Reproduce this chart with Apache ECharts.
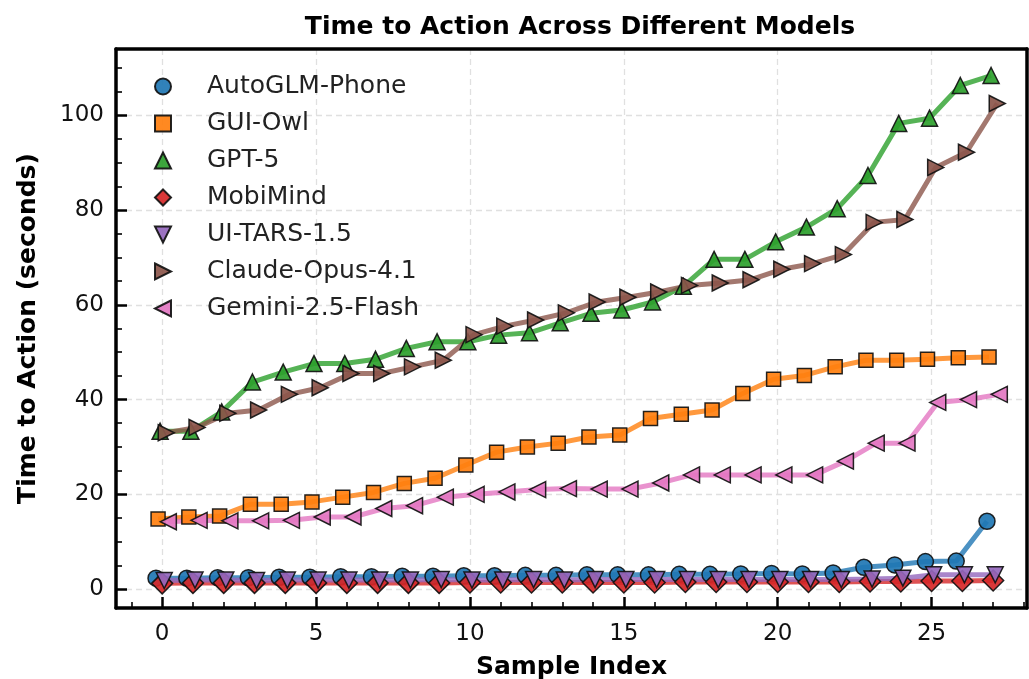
<!DOCTYPE html>
<html>
<head>
<meta charset="utf-8">
<script src="https://cdn.jsdelivr.net/npm/echarts@6/dist/echarts.min.js"></script>
<style>
html, body { margin: 0; padding: 0; background: #fff; }
#chart { width: 1029px; height: 679px; }
</style>
</head>
<body>
<div id="chart"></div>
<script>
var sampleIndex = [0, 1, 2, 3, 4, 5, 6, 7, 8, 9, 10, 11, 12, 13, 14, 15, 16, 17, 18, 19, 20, 21, 22, 23, 24, 25, 26, 27];

var modelNames = ['AutoGLM-Phone', 'GUI-Owl', 'GPT-5', 'MobiMind', 'UI-TARS-1.5', 'Claude-Opus-4.1', 'Gemini-2.5-Flash'];
var colors = ['#1f77b4', '#ff7f0e', '#2ca02c', '#d62728', '#9467bd', '#8c564b', '#e377c2'];
// small horizontal shift of each model's points
var dodge = [-0.2, -0.133, -0.067, 0, 0.067, 0.133, 0.2];

var autoglm = [2.3, 2.3, 2.4, 2.4, 2.5, 2.5, 2.6, 2.6, 2.7, 2.7, 2.8, 2.8, 2.9, 2.9, 3.0, 3.0, 3.0, 3.1, 3.1, 3.2, 3.3, 3.2, 3.4, 4.6, 5.1, 5.8, 5.9, 14.3];
var guiOwl = [14.8, 15.2, 15.4, 17.9, 17.9, 18.4, 19.4, 20.4, 22.3, 23.4, 26.2, 28.9, 30.0, 30.8, 32.1, 32.5, 36.0, 36.9, 37.8, 41.3, 44.3, 45.1, 46.9, 48.3, 48.3, 48.5, 48.8, 49.0];
var gpt5 = [33.3, 33.3, 37.4, 43.7, 45.8, 47.6, 47.6, 48.5, 50.8, 52.2, 52.2, 53.6, 54.1, 56.2, 58.2, 58.9, 60.6, 63.9, 69.6, 69.6, 73.3, 76.4, 80.3, 87.3, 98.3, 99.4, 106.3, 108.4];
var mobiMind = [1.2, 1.3, 1.3, 1.3, 1.3, 1.3, 1.3, 1.3, 1.3, 1.3, 1.4, 1.4, 1.4, 1.4, 1.4, 1.4, 1.4, 1.5, 1.5, 1.5, 1.5, 1.5, 1.5, 1.6, 1.6, 1.7, 1.7, 1.8];
var uiTars = [1.8, 1.9, 1.9, 1.8, 1.9, 1.9, 1.9, 1.9, 1.9, 2.0, 1.9, 1.9, 2.0, 1.9, 2.0, 2.0, 2.0, 2.0, 2.0, 2.0, 2.0, 2.0, 2.0, 2.1, 2.3, 3.0, 3.0, 3.0];
var claude = [33.0, 34.1, 37.1, 37.8, 41.1, 42.5, 45.5, 45.5, 46.9, 48.3, 53.7, 55.5, 56.8, 58.3, 60.6, 61.6, 62.7, 64.1, 64.6, 65.3, 67.5, 68.7, 70.6, 77.4, 78.0, 89.0, 92.2, 102.5];
var gemini = [14.2, 14.5, 14.4, 14.4, 14.5, 15.2, 15.2, 17.0, 17.6, 19.4, 20.0, 20.5, 21.0, 21.2, 21.1, 21.1, 22.4, 24.1, 24.1, 24.1, 24.1, 24.1, 27.0, 30.8, 30.8, 39.4, 40.0, 41.1];

var xMajor = [0, 5, 10, 15, 20, 25];
var xMinor = [-1, 1, 2, 3, 4, 6, 7, 8, 9, 11, 12, 13, 14, 16, 17, 18, 19, 21, 22, 23, 24, 26, 27, 28];
var yMajor = [0, 20, 40, 60, 80, 100];
var yMinor = [5, 10, 15, 25, 30, 35, 45, 50, 55, 65, 70, 75, 85, 90, 95, 105, 110];

var allValues = [autoglm, guiOwl, gpt5, mobiMind, uiTars, claude, gemini];

var markers = [
    'circle',
    'path://M0,0L10,0L10,10L0,10Z',
    'path://M5,0L10,10L0,10Z',
    'path://M5,0L10,5L5,10L0,5Z',
    'path://M0,0L10,0L5,10Z',
    'path://M0,0L10,5L0,10Z',
    'path://M10,0L0,5L10,10Z'
];
var markerSizes = [16, 14, 16, 21, 16, 16, 16];

var font = 'DejaVu Sans';
var xMin = -1.5, xMax = 28.1, yMin = -4, yMax = 114;

function eachOf(arr, fn) {
    for (var i = 0; i < arr.length; i++) fn(i, arr[i]);
}

var series = [];
eachOf(allValues, function (k, vals) {
    var data = [];
    eachOf(vals, function (i, v) {
        data.push([sampleIndex[i] + dodge[k], v]);
    });
    series.push({
        name: modelNames[k],
        type: 'line',
        data: data,
        symbol: markers[k],
        symbolSize: markerSizes[k],
        lineStyle: { width: 5, color: colors[k], opacity: 0.8 },
        itemStyle: { color: colors[k], borderColor: '#111', borderWidth: 1.5, opacity: 0.92 },
        emphasis: { disabled: true }
    });
});

var legendData = [];
eachOf(modelNames, function (k, n) {
    legendData.push({ name: n, icon: markers[k] });
});

var chart = echarts.init(document.getElementById('chart'));
chart.setOption({
    animation: false,
    backgroundColor: '#fff',
    title: {
        text: 'Time to Action Across Different Models',
        left: 575, top: 10, textAlign: 'center',
        textStyle: { fontFamily: font, fontWeight: 'bold', fontSize: 25, color: '#000' }
    },
    legend: {
        orient: 'vertical',
        left: 154, top: 74, padding: 0,
        itemWidth: 16, itemHeight: 16, itemGap: 12,
        data: legendData,
        textStyle: { fontFamily: font, fontSize: 25, color: '#222', padding: [0, 0, 0, 31] }
    },
    grid: [
        { left: 116, right: 2, top: 49, bottom: 71, outerBoundsMode: 'none', containLabel: false },
        { left: 116, right: 2, top: 49, bottom: 71, outerBoundsMode: 'none', containLabel: false }
    ],
    xAxis: [
        {
            type: 'value', gridIndex: 0, position: 'bottom', min: xMin, max: xMax,
            name: 'Sample Index', nameLocation: 'middle', nameGap: 47,
            nameTextStyle: { fontFamily: font, fontWeight: 'bold', fontSize: 25, color: '#000' },
            axisLine: { onZero: false, lineStyle: { color: '#000', width: 3.5 } },
            axisTick: { inside: true, length: 11, customValues: xMajor, lineStyle: { color: '#000', width: 2.5 } },
            axisLabel: { customValues: xMajor, margin: 15, fontFamily: font, fontSize: 23, color: '#111' },
            splitLine: { show: true, lineStyle: { type: [6, 4], color: '#e0e0e0', width: 1.3 } }
        },
        {
            type: 'value', gridIndex: 0, position: 'top', min: xMin, max: xMax,
            axisLine: { onZero: false, lineStyle: { color: '#000', width: 3.5 } },
            axisTick: { show: false }, axisLabel: { show: false }, splitLine: { show: false }
        },
        {
            type: 'value', gridIndex: 1, position: 'bottom', min: xMin, max: xMax,
            axisLine: { show: false, onZero: false },
            axisTick: { inside: true, length: 6, customValues: xMinor, lineStyle: { color: '#000', width: 1.6 } },
            axisLabel: { show: false }, splitLine: { show: false }
        }
    ],
    yAxis: [
        {
            type: 'value', gridIndex: 0, position: 'left', min: yMin, max: yMax,
            name: 'Time to Action (seconds)', nameLocation: 'middle', nameGap: 75,
            nameTextStyle: { fontFamily: font, fontWeight: 'bold', fontSize: 25, color: '#000' },
            axisLine: { onZero: false, lineStyle: { color: '#000', width: 3.5 } },
            axisTick: { inside: true, length: 11, customValues: yMajor, lineStyle: { color: '#000', width: 2.5 } },
            axisLabel: { customValues: yMajor, margin: 12, fontFamily: font, fontSize: 23, color: '#111' },
            splitLine: { show: true, lineStyle: { type: [6, 4], color: '#e0e0e0', width: 1.3 } }
        },
        {
            type: 'value', gridIndex: 0, position: 'right', min: yMin, max: yMax,
            axisLine: { onZero: false, lineStyle: { color: '#000', width: 3.5 } },
            axisTick: { show: false }, axisLabel: { show: false }, splitLine: { show: false }
        },
        {
            type: 'value', gridIndex: 1, position: 'left', min: yMin, max: yMax,
            axisLine: { show: false, onZero: false },
            axisTick: { inside: true, length: 6, customValues: yMinor, lineStyle: { color: '#000', width: 1.6 } },
            axisLabel: { show: false }, splitLine: { show: false }
        }
    ],
    series: series
});
</script>
</body>
</html>
